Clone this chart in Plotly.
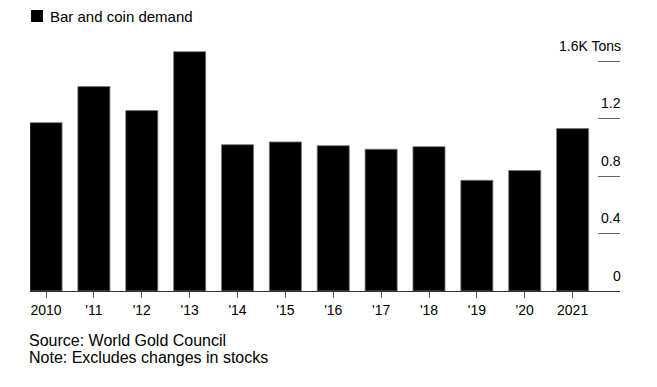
import plotly.graph_objects as go

years = ["2010", "'11", "'12", "'13", "'14", "'15", "'16", "'17", "'18", "'19", "'20", "2021"]
demand = [1.171, 1.422, 1.255, 1.665, 1.018, 1.037, 1.011, 0.986, 1.004, 0.770, 0.838, 1.130]
y_tickvals = [0, 0.4, 0.8, 1.2, 1.6]
y_ticktext = ["0", "0.4", "0.8", "1.2", "1.6K Tons"]
series_name = "Bar and coin demand"

FONT = "Liberation Sans, Arial, sans-serif"
W, H = 657, 387
ML, MR, MT, MB = 30, 37, 34, 96

fig = go.Figure()
fig.add_trace(go.Bar(
    x=list(range(len(years))), y=demand, name=series_name,
    marker=dict(color="#000000", line=dict(color="#777777", width=0.8)),
    width=0.67, showlegend=False, hoverinfo="skip",
))

pw, ph = W - ML - MR, H - MT - MB
def px_x(p):  # pixel -> paper
    return (p - ML) / pw
def px_y(p):
    return (H - MB - p) / ph

fig.update_layout(
    width=W, height=H,
    margin=dict(l=ML, r=MR, t=MT, b=MB, autoexpand=False),
    paper_bgcolor="white", plot_bgcolor="white",
    font=dict(family=FONT, size=14, color="#000000"),
    showlegend=False,
    bargap=0.33,
)
fig.update_xaxes(
    type="linear", range=[-0.335, 11.99], automargin=False,
    tickvals=list(range(len(years))), ticktext=years,
    showgrid=False, zeroline=False,
    showline=True, linecolor="#333333", linewidth=1,
    ticks="outside", ticklen=6, tickcolor="#555555", tickwidth=1,
    tickfont=dict(size=14, family=FONT),
)
fig.update_yaxes(
    range=[0, ph / 143.75], side="right", automargin=False,
    tickvals=y_tickvals, showticklabels=False,
    showgrid=False, zeroline=False, showline=False,
    ticks="inside", ticklen=22, tickcolor="#666666", tickwidth=1,
)
# y tick labels placed above the short tick dashes
for v, t in zip(y_tickvals, y_ticktext):
    fig.add_annotation(xref="paper", yref="y", x=1, y=v, xanchor="right",
                       yanchor="middle", yshift=15.5, xshift=3, text=t,
                       showarrow=False, font=dict(size=14, family=FONT, color="#000000"))
# legend swatch and label
fig.add_shape(type="rect", xref="paper", yref="paper",
              x0=px_x(31), x1=px_x(43), y0=px_y(22), y1=px_y(10),
              fillcolor="#000000", line=dict(width=0))
fig.add_annotation(xref="paper", yref="paper", x=px_x(48), y=px_y(16),
                   xanchor="left", yanchor="middle", text=series_name,
                   showarrow=False, font=dict(size=15, family=FONT, color="#000000"))
fig.add_annotation(xref="paper", yref="paper", x=px_x(27), y=px_y(340),
                   xanchor="left", yanchor="middle", text="Source: World Gold Council",
                   showarrow=False, font=dict(size=16, family=FONT, color="#000000"))
fig.add_annotation(xref="paper", yref="paper", x=px_x(27), y=px_y(357),
                   xanchor="left", yanchor="middle", text="Note: Excludes changes in stocks",
                   showarrow=False, font=dict(size=16, family=FONT, color="#000000"))
fig.write_html("out.html", config={"displayModeBar": False},
               post_script="document.body.style.margin='0px';")
